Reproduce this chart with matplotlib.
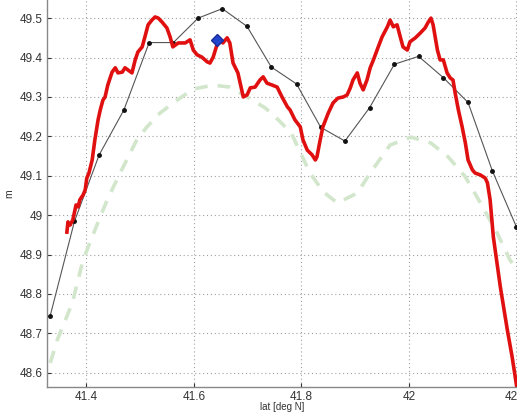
import matplotlib
matplotlib.use("Agg")
import matplotlib.pyplot as plt
from matplotlib.ticker import FuncFormatter

# ---- data ----
obs_lat = [41.364, 41.366, 41.370, 41.375, 41.379, 41.381, 41.385, 41.388, 41.394, 41.398,
           41.401, 41.405, 41.411, 41.416, 41.422, 41.426, 41.431, 41.435, 41.440, 41.448,
           41.454, 41.459, 41.467, 41.472, 41.478, 41.485, 41.491, 41.496, 41.504, 41.509,
           41.515, 41.522, 41.528, 41.534, 41.541, 41.550, 41.556, 41.561, 41.571, 41.584,
           41.593, 41.599, 41.606, 41.615, 41.625, 41.630, 41.636, 41.643, 41.649, 41.654,
           41.662, 41.667, 41.673, 41.682, 41.692, 41.699, 41.705, 41.714, 41.723, 41.729,
           41.736, 41.746, 41.755, 41.764, 41.774, 41.779, 41.788, 41.798, 41.803, 41.811,
           41.820, 41.826, 41.829, 41.835, 41.840, 41.850, 41.859, 41.868, 41.878, 41.885,
           41.891, 41.896, 41.904, 41.909, 41.915, 41.922, 41.928, 41.934, 41.943, 41.950,
           41.960, 41.965, 41.971, 41.978, 41.984, 41.989, 41.997, 42.002, 42.012, 42.021,
           42.030, 42.036, 42.041, 42.045, 42.053, 42.058, 42.064, 42.071, 42.077, 42.082,
           42.086, 42.092, 42.099, 42.105, 42.110, 42.118, 42.123, 42.133, 42.142, 42.146,
           42.151, 42.157, 42.170, 42.183, 42.192, 42.200]
obs_m = [48.957, 48.983, 48.975, 48.988, 49.013, 49.026, 49.021, 49.039, 49.051, 49.064,
         49.094, 49.107, 49.140, 49.191, 49.242, 49.267, 49.292, 49.300, 49.330, 49.363,
         49.374, 49.361, 49.363, 49.374, 49.368, 49.361, 49.394, 49.414, 49.427, 49.452,
         49.483, 49.495, 49.503, 49.500, 49.490, 49.475, 49.452, 49.427, 49.437, 49.437,
         49.445, 49.419, 49.407, 49.401, 49.389, 49.386, 49.401, 49.432, 49.445, 49.437,
         49.450, 49.437, 49.386, 49.361, 49.300, 49.305, 49.323, 49.325, 49.343, 49.351,
         49.335, 49.330, 49.325, 49.300, 49.275, 49.267, 49.242, 49.224, 49.191, 49.165,
         49.153, 49.140, 49.148, 49.191, 49.224, 49.259, 49.285, 49.297, 49.300, 49.305,
         49.323, 49.343, 49.361, 49.335, 49.318, 49.343, 49.374, 49.394, 49.427, 49.452,
         49.478, 49.495, 49.478, 49.483, 49.452, 49.427, 49.419, 49.440, 49.450, 49.462,
         49.475, 49.490, 49.500, 49.483, 49.419, 49.394, 49.394, 49.361, 49.348, 49.343,
         49.310, 49.267, 49.224, 49.183, 49.140, 49.115, 49.107, 49.102, 49.094, 49.082,
         49.039, 48.945, 48.818, 48.709, 48.640, 48.569]

model_lat = [41.333, 41.378, 41.424, 41.470, 41.517, 41.562, 41.608, 41.653, 41.699, 41.744,
             41.791, 41.836, 41.881, 41.927, 41.973, 42.018, 42.064, 42.110, 42.155, 42.200]
model_m = [48.745, 48.984, 49.153, 49.267, 49.438, 49.438, 49.500, 49.524, 49.479, 49.376,
           49.333, 49.223, 49.188, 49.273, 49.383, 49.403, 49.349, 49.286, 49.113, 48.970]

ref_lat = [41.333, 41.346, 41.374, 41.394, 41.416, 41.439, 41.463, 41.494, 41.513, 41.537,
           41.569, 41.599, 41.636, 41.667, 41.699, 41.733, 41.757, 41.781, 41.816, 41.841,
           41.867, 41.904, 41.928, 41.965, 42.004, 42.041, 42.073, 42.105, 42.133, 42.164,
           42.188, 42.200]
ref_m = [48.625, 48.683, 48.777, 48.886, 48.962, 49.039, 49.107, 49.191, 49.224, 49.259,
         49.292, 49.320, 49.330, 49.325, 49.300, 49.272, 49.242, 49.209, 49.107, 49.059,
         49.031, 49.056, 49.107, 49.178, 49.198, 49.183, 49.148, 49.097, 49.031, 48.955,
         48.886, 48.866]

marker_lat = [41.643]
marker_m = [49.445]

xticks = [41.4, 41.6, 41.8, 42.0, 42.2]
yticks = [48.6, 48.7, 48.8, 48.9, 49.0, 49.1, 49.2, 49.3, 49.4, 49.5]

# ---- figure ----
plt.rcParams['font.family'] = ['Liberation Sans', 'DejaVu Sans']
fig = plt.figure(figsize=(5.17, 4.13), dpi=100)
ax = fig.add_axes([47 / 517, 26 / 413, 470 / 517, 387 / 413])

ax.plot(ref_lat, ref_m, color='#d2e6cc', lw=2.6, ls=(0, (3.5, 2.8)), zorder=2)
ax.plot(model_lat, model_m, color='#555555', lw=0.8, marker='o', ms=2.5,
        mfc='#111111', mec='#111111', zorder=3)
ax.plot(obs_lat, obs_m, color='#e01010', lw=2.6, zorder=4)
ax.plot(marker_lat, marker_m, marker='D', ms=6, color='#2244cc', mec='#1a2a99',
        ls='none', zorder=5)

ax.set_xlim(41.327, 42.201)
ax.set_ylim(48.564, 49.546)
ax.set_xticks(xticks)
ax.set_yticks(yticks)
ax.xaxis.set_major_formatter(FuncFormatter(lambda v, p: f'{v:g}'))
ax.yaxis.set_major_formatter(FuncFormatter(lambda v, p: f'{v:g}'))
ax.grid(True, color='#a0a0a0', ls=(0, (1, 2.5)), lw=0.8)
ax.set_axisbelow(True)
ax.tick_params(direction='in', length=3, labelsize=8.5, colors='#333333',
               top=False, right=False, pad=3)
for s in ['top', 'right']:
    ax.spines[s].set_visible(False)
for s in ['left', 'bottom']:
    ax.spines[s].set_color('#888888')
    ax.spines[s].set_linewidth(1.0)

ax.set_xlabel('lat [deg N]', fontsize=7, color='#333333', labelpad=-1)
ax.set_ylabel('m', fontsize=7.5, color='#333333', labelpad=4)

fig.savefig('out.png', dpi=100)
